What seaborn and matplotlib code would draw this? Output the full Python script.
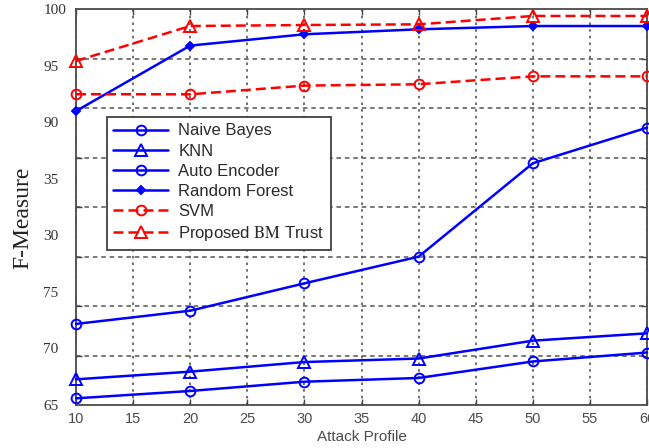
import matplotlib
matplotlib.use("Agg")
import matplotlib.pyplot as plt
import seaborn as sns
import numpy as np
from matplotlib.ticker import FixedLocator

# ---- data ----
attack_profile = [10, 20, 30, 40, 50, 60]
naive_bayes = [65.59, 66.24, 67.06, 67.39, 68.85, 69.64]
knn = [67.27, 67.95, 68.80, 69.11, 70.69, 71.34]
auto_encoder = [72.17, 73.34, 75.76, 78.12, 86.38, 89.53]
random_forest = [91.00, 96.79, 97.79, 98.23, 98.52, 98.52]
svm = [92.49, 92.48, 93.25, 93.37, 94.07, 94.07]
proposed = [95.43, 98.52, 98.61, 98.67, 99.41, 99.41]

series_names = ["Naive Bayes", "KNN", "Auto Encoder", "Random Forest", "SVM",
                "Proposed $\\mathrm{BM}$ Trust"]
x_ticks = [10, 15, 20, 25, 30, 35, 40, 45, 50, 55, 60]
y_tick_values = [100, 95, 90, 85, 80, 75, 70, 65]
y_tick_labels = ["100", "95", "90", "35", "30", "75", "70", "65"]

sns.set_style("white")
plt.rcParams["font.family"] = ["Liberation Sans", "DejaVu Sans"]
plt.rcParams["mathtext.fontset"] = "stix"

fig = plt.figure(figsize=(6.49, 4.48), dpi=100)
ax = fig.add_axes([76 / 649, 1 - 405 / 448, 571 / 649, (405 - 9.3) / 448])

blue = "#0000FF"
red = "#FF0000"
dash = (0, (4, 2))
styles = [
    dict(data=naive_bayes, color=blue, ls="-", marker="o", ms=7, mfc="none"),
    dict(data=knn, color=blue, ls="-", marker="^", ms=8, mfc="none"),
    dict(data=auto_encoder, color=blue, ls="-", marker="o", ms=7, mfc="none"),
    dict(data=random_forest, color=blue, ls="-", marker="D", ms=4.5, mfc=blue),
    dict(data=svm, color=red, ls=dash, marker="o", ms=7, mfc="none"),
    dict(data=proposed, color=red, ls=dash, marker="^", ms=8, mfc="none"),
]

handles = []
for name, st in zip(series_names, styles):
    sns.lineplot(x=attack_profile, y=st["data"], ax=ax, color=st["color"],
                 linestyle=st["ls"], linewidth=1.8, marker=st["marker"],
                 markersize=st["ms"], markerfacecolor=st["mfc"],
                 markeredgecolor=st["color"], markeredgewidth=1.4,
                 label=name, legend=False, zorder=3, clip_on=False)
    handles.append(ax.lines[-1])

ax.set_xlim(10, 60)
ax.set_ylim(65, 100)
ax.set_xticks(x_ticks)
ax.set_yticks(y_tick_values)
ax.set_yticklabels(y_tick_labels, ha="left", family="Liberation Serif",
                   fontsize=11, color="#333333")
ax.yaxis.set_minor_locator(FixedLocator(list(65 + np.arange(9) * 35 / 8)))

ax.tick_params(axis="y", which="major", length=0, pad=23.5)
ax.tick_params(axis="y", which="minor", direction="in", length=4, width=1,
               color="#444444", left=True, right=True)
ax.tick_params(axis="x", which="major", direction="in", length=4, width=1,
               color="#444444", top=True, bottom=True, pad=5,
               labelsize=10.5, labelcolor="#4d4d4d")

ax.grid(False)
ax.grid(True, axis="x", which="major", color="#555555",
        linestyle=(0, (1.5, 2.5)), linewidth=1.2)
ax.grid(True, axis="y", which="minor", color="#555555",
        linestyle=(0, (3, 2.5)), linewidth=1.1)
ax.set_axisbelow(True)

for sp in ax.spines.values():
    sp.set_visible(True)
    sp.set_color("#4a4a4a")
    sp.set_linewidth(1.3)

ax.set_xlabel("Attack Profile", fontsize=11, color="#4d4d4d")
ax.xaxis.set_label_coords(0.5, -0.064)
ax.set_ylabel("F-Measure", family="Liberation Serif", fontsize=17,
              color="#222222")
ax.yaxis.set_label_coords(-0.0753, 0.472)

leg = ax.legend(handles=handles, labels=series_names, loc="upper left",
                bbox_to_anchor=((106.7 - 76) / 571, 1 - (116.7 - 9.3) / 395.7),
                borderaxespad=0, fontsize=12, labelspacing=0.31,
                handlelength=3.3, handletextpad=0.6, borderpad=0.4,
                fancybox=False, framealpha=1, edgecolor="#404040")
leg.get_frame().set_linewidth(1.3)
for t in leg.get_texts():
    t.set_color("#2a2a2a")
leg.set_zorder(5)

fig.savefig("out.png", dpi=100)
